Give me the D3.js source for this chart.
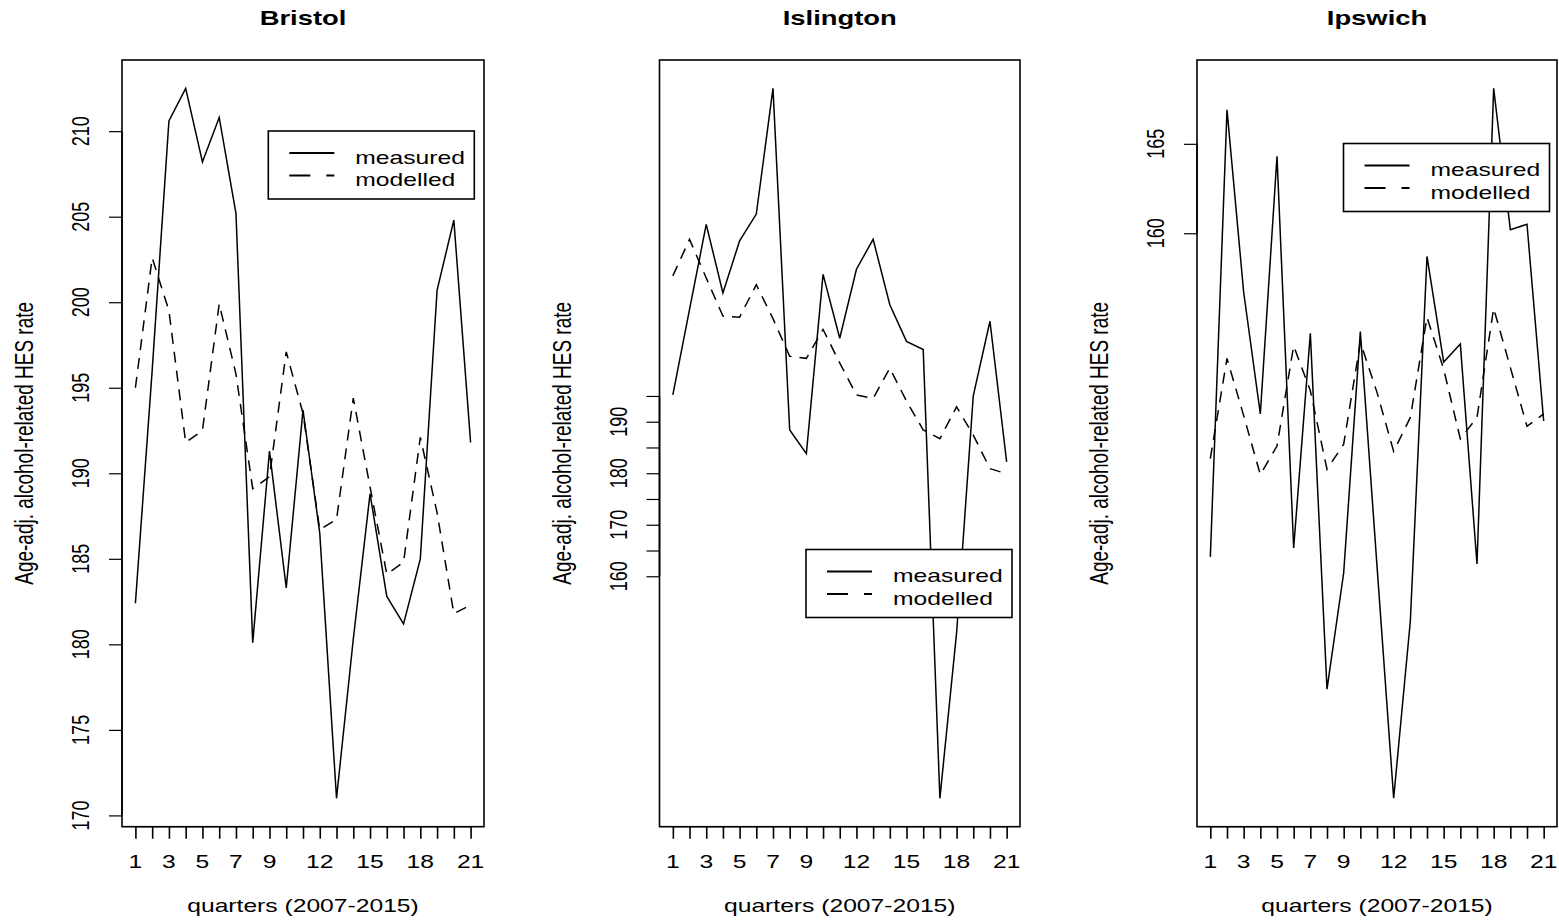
<!DOCTYPE html>
<html><head><meta charset="utf-8">
<script src="https://cdn.jsdelivr.net/npm/d3@7"></script>
<style>
body{margin:0;background:#fff}
svg{display:block}
text{font-family:"Liberation Sans",Arial,sans-serif;fill:#000}
</style>
</head><body>
<svg id="c" width="1559" height="921"></svg>
<script>
// ---------------- data ----------------
const quarters = d3.range(1, 22);
const xTickLabels = [1, 3, 5, 7, 9, 12, 15, 18, 21];
const titles = ["Bristol", "Islington", "Ipswich"];
const legendLabels = ["measured", "modelled"];
const xTitle = "quarters (2007-2015)";
const yTitle = "Age-adj. alcohol-related HES rate";

const bristolMeasured = [182.4, 196.0, 210.6, 212.5, 208.2, 210.8, 205.2, 180.1, 191.3, 183.3, 193.7,
                         186.5, 171.0, 180.3, 188.8, 182.8, 181.2, 185.0, 200.7, 204.8, 191.8];
const bristolModelled = [195.0, 202.6, 199.5, 191.8, 192.5, 199.9, 195.8, 189.1, 189.8, 197.1, 193.5,
                         186.7, 187.3, 194.4, 189.2, 184.1, 184.8, 192.1, 187.7, 181.8, 182.3];
const islingtonMeasured = [195.2, 211.8, 228.3, 215.0, 225.1, 230.3, 254.7, 188.4, 183.8, 218.6, 206.2,
                           219.6, 225.4, 212.7, 205.6, 204.0, 116.9, 149.0, 195.0, 209.5, 182.2];
const islingtonModelled = [218.3, 225.4, 217.9, 210.5, 210.3, 216.6, 210.0, 202.7, 202.3, 207.9, 201.4,
                           195.2, 194.5, 200.4, 194.0, 188.4, 186.7, 192.9, 187.4, 180.9, 179.9];
const ipswichMeasured = [141.9, 166.9, 156.7, 149.9, 164.3, 142.4, 154.4, 134.5, 141.0, 154.5, 141.4,
                         128.4, 138.3, 158.7, 152.8, 153.8, 141.5, 168.1, 160.2, 160.5, 149.5];
const ipswichModelled = [147.4, 153.0, 149.8, 146.5, 148.1, 153.7, 151.2, 146.8, 148.2, 153.9, 151.1,
                         147.8, 149.7, 155.3, 152.4, 148.5, 149.7, 155.8, 152.5, 149.2, 149.9];

const bristolYTicks = [170, 175, 180, 185, 190, 195, 200, 205, 210];
const bristolYLabels = [170, 175, 180, 185, 190, 195, 200, 205, 210];
const islingtonYTicks = [160, 165, 170, 175, 180, 185, 190, 195];
const islingtonYLabels = [160, 170, 180, 190];
const ipswichYTicks = [160, 165];
const ipswichYLabels = [160, 165];

// ---------------- layout ----------------
const SX = 1.37;          // horizontal stretch of the original raster
const FS = 18;
const TOP = 60, BOTTOM = 826.7;
const panels = [
  {title: titles[0], m: bristolMeasured, d: bristolModelled, yt: bristolYTicks, yl: bristolYLabels,
   left: 122, right: 484, legend: [268.3, 131]},
  {title: titles[1], m: islingtonMeasured, d: islingtonModelled, yt: islingtonYTicks, yl: islingtonYLabels,
   left: 659.5, right: 1020, legend: [806, 549.5]},
  {title: titles[2], m: ipswichMeasured, d: ipswichModelled, yt: ipswichYTicks, yl: ipswichYLabels,
   left: 1197, right: 1557, legend: [1343.5, 143.5]}
];

const svg = d3.select("#c");
svg.append("rect").attr("width", 1559).attr("height", 921).attr("fill", "#fff");

function stretchedText(g, x, y, txt, opts = {}) {
  const t = g.append("text")
    .attr("transform", `translate(${x},${y}) scale(${SX},1)` + (opts.rotate ? " rotate(-90)" : ""))
    .attr("text-anchor", opts.anchor || "middle")
    .attr("font-size", opts.size || FS)
    .text(txt);
  if (opts.bold) t.attr("font-weight", "bold");
  return t;
}

panels.forEach(p => {
  const g = svg.append("g");
  const x = d3.scaleLinear().domain([0.2, 21.8]).range([p.left, p.right]);
  const all = p.m.concat(p.d);
  const lo = d3.min(all), hi = d3.max(all), pad = (hi - lo) * 0.04;
  const y = d3.scaleLinear().domain([lo - pad, hi + pad]).range([BOTTOM, TOP]);

  // x axis
  const xa = g.append("g").attr("transform", `translate(0,${BOTTOM})`)
    .call(d3.axisBottom(x).tickValues(quarters).tickSize(12).tickSizeOuter(0).tickFormat(""));
  xa.select(".domain").remove();
  xa.selectAll(".tick line").attr("stroke", "#000").attr("stroke-width", 1.6);
  xa.append("line").attr("x1", x(1)).attr("x2", x(21)).attr("stroke", "#000").attr("stroke-width", 1.2);
  xTickLabels.forEach(q => stretchedText(g, x(q), 868.3, q));

  // y axis
  const ya = g.append("g").attr("transform", `translate(${p.left},0)`)
    .call(d3.axisLeft(y).tickValues(p.yt).tickSize(13).tickSizeOuter(0).tickFormat(""));
  ya.select(".domain").remove();
  ya.selectAll(".tick line").attr("stroke", "#000").attr("stroke-width", 1.2);
  ya.append("line").attr("y1", y(d3.min(p.yt))).attr("y2", y(d3.max(p.yt))).attr("stroke", "#000").attr("stroke-width", 1.6);
  p.yl.forEach(v => stretchedText(g, p.left - 32.7, y(v), v, {rotate: true}));

  // box
  g.append("rect").attr("x", p.left).attr("y", TOP)
    .attr("width", p.right - p.left).attr("height", BOTTOM - TOP)
    .attr("fill", "none").attr("stroke", "#000").attr("stroke-width", 1.6);

  // titles
  const cx = (p.left + p.right) / 2;
  stretchedText(g, cx, 25, p.title, {size: 20, bold: true});
  stretchedText(g, cx, 912, xTitle);
  stretchedText(g, p.left - 89, (TOP + BOTTOM) / 2, yTitle, {rotate: true, size: 19});

  // series
  const line = d3.line().x((v, i) => x(quarters[i])).y(v => y(v));
  g.append("path").attr("d", line(p.d)).attr("fill", "none").attr("stroke", "#000")
    .attr("stroke-width", 1.5).attr("stroke-dasharray", "11,8");
  g.append("path").attr("d", line(p.m)).attr("fill", "none").attr("stroke", "#000")
    .attr("stroke-width", 1.5);

  // legend
  const [lx, ly] = p.legend;
  const lg = g.append("g").attr("transform", `translate(${lx},${ly})`);
  lg.append("rect").attr("width", 206).attr("height", 68)
    .attr("fill", "#fff").attr("stroke", "#000").attr("stroke-width", 1.6);
  legendLabels.forEach((lab, i) => {
    const yy = i === 0 ? 22 : 44.5;
    lg.append("line").attr("x1", 21).attr("x2", 66).attr("y1", yy).attr("y2", yy)
      .attr("stroke", "#000").attr("stroke-width", 2)
      .attr("stroke-dasharray", i === 0 ? null : "21,16");
    stretchedText(lg, 87, yy + 10.5, lab, {anchor: "start"});
  });
});
</script>
</body></html>
